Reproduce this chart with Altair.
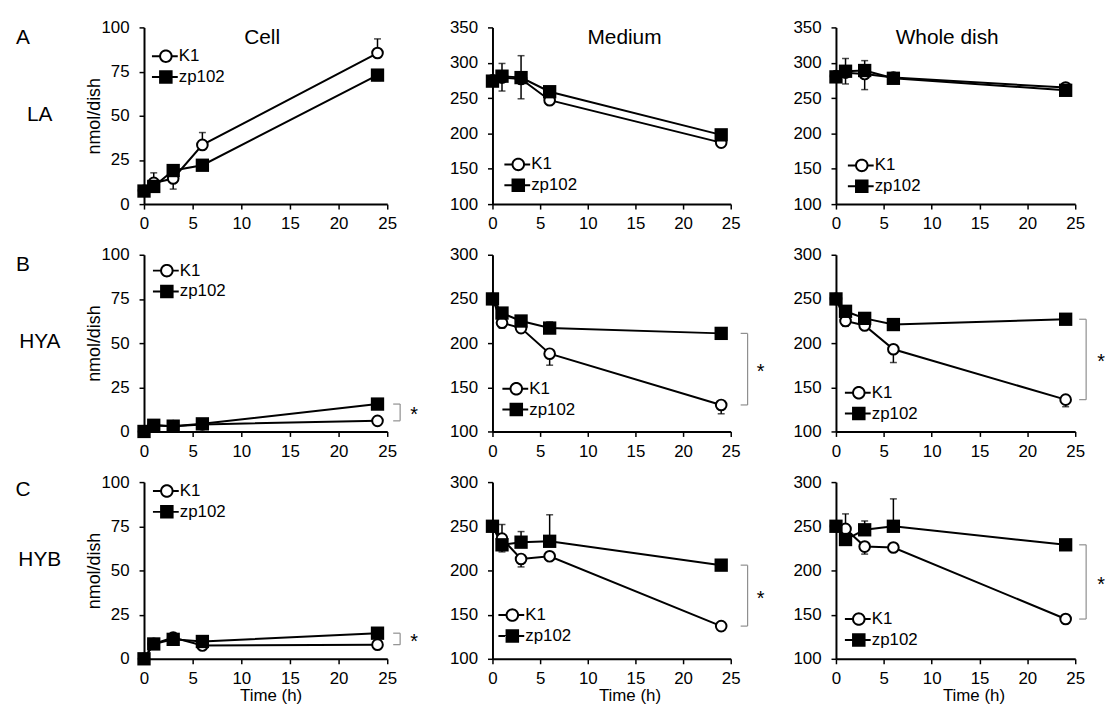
import math
import altair as alt
import pandas as pd

FONT = "Liberation Sans"
TIME = [0, 1, 3, 6, 24]
STRAINS = ["K1", "zp102"]
X_TICKS = [0, 5, 10, 15, 20, 25]

ROW_LETTERS = ["A", "B", "C"]
ROW_NAMES = ["LA", "HYA", "HYB"]
COL_NAMES = ["Cell", "Medium", "Whole dish"]

# ---- LA ----
LA_CELL_K1 = [7.5, 12, 14.5, 33.5, 85.5]
LA_CELL_K1_SD = [1, 5.7, 6, 7, 8]
LA_CELL_ZP = [7.4, 10, 19, 22, 73]
LA_CELL_ZP_SD = [2, 2, 2, 2, 3]
LA_MED_K1 = [275, 279, 277, 247, 187]
LA_MED_K1_SD = [5, 19, 28, 6, 6]
LA_MED_ZP = [274, 281, 279, 259, 198]
LA_MED_ZP_SD = [5, 18, 31, 6, 6]
LA_WHOLE_K1 = [281, 286, 284, 279, 265]
LA_WHOLE_K1_SD = [5, 16, 22, 5, 5]
LA_WHOLE_ZP = [280, 288, 289, 278, 261]
LA_WHOLE_ZP_SD = [5, 18, 14, 5, 5]
# ---- HYA ----
HYA_CELL_K1 = [0, 3.5, 3, 4, 6]
HYA_CELL_K1_SD = [0.3, 0.5, 0.5, 0.8, 1.5]
HYA_CELL_ZP = [0, 3.5, 3, 4.3, 15.5]
HYA_CELL_ZP_SD = [0.3, 0.5, 0.5, 0.8, 2]
HYA_MED_K1 = [250, 223, 217, 188, 130]
HYA_MED_K1_SD = [3, 6, 4, 13, 10]
HYA_MED_ZP = [250, 234, 225, 217, 211]
HYA_MED_ZP_SD = [3, 5, 4, 7, 4]
HYA_WHOLE_K1 = [250, 225, 220, 193, 136]
HYA_WHOLE_K1_SD = [3, 6, 4, 15, 8]
HYA_WHOLE_ZP = [250, 236, 228, 221, 227]
HYA_WHOLE_ZP_SD = [3, 5, 4, 6, 4]
# ---- HYB ----
HYB_CELL_K1 = [0, 8.5, 12, 7.5, 8]
HYB_CELL_K1_SD = [0.3, 1, 1.5, 1, 1]
HYB_CELL_ZP = [0, 8.4, 11, 9.8, 14.5]
HYB_CELL_ZP_SD = [0.3, 1, 1, 1, 1.5]
HYB_MED_K1 = [250, 236, 213, 216, 137]
HYB_MED_K1_SD = [3, 16, 9, 4, 3]
HYB_MED_ZP = [250, 229, 232, 233, 206]
HYB_MED_ZP_SD = [3, 8, 12, 30, 3]
HYB_WHOLE_K1 = [250, 247, 227, 226, 145]
HYB_WHOLE_K1_SD = [3, 17, 8.5, 4, 3]
HYB_WHOLE_ZP = [250, 235, 246, 250, 229]
HYB_WHOLE_ZP_SD = [3, 5, 10, 31, 5]

SERIES = [
    [(LA_CELL_K1, LA_CELL_K1_SD, LA_CELL_ZP, LA_CELL_ZP_SD),
     (LA_MED_K1, LA_MED_K1_SD, LA_MED_ZP, LA_MED_ZP_SD),
     (LA_WHOLE_K1, LA_WHOLE_K1_SD, LA_WHOLE_ZP, LA_WHOLE_ZP_SD)],
    [(HYA_CELL_K1, HYA_CELL_K1_SD, HYA_CELL_ZP, HYA_CELL_ZP_SD),
     (HYA_MED_K1, HYA_MED_K1_SD, HYA_MED_ZP, HYA_MED_ZP_SD),
     (HYA_WHOLE_K1, HYA_WHOLE_K1_SD, HYA_WHOLE_ZP, HYA_WHOLE_ZP_SD)],
    [(HYB_CELL_K1, HYB_CELL_K1_SD, HYB_CELL_ZP, HYB_CELL_ZP_SD),
     (HYB_MED_K1, HYB_MED_K1_SD, HYB_MED_ZP, HYB_MED_ZP_SD),
     (HYB_WHOLE_K1, HYB_WHOLE_K1_SD, HYB_WHOLE_ZP, HYB_WHOLE_ZP_SD)],
]
Y_DOMAINS = [[[0, 100], [100, 350], [100, 350]],
             [[0, 100], [100, 300], [100, 300]],
             [[0, 100], [100, 300], [100, 300]]]
Y_TICKS_CELL = [0, 25, 50, 75, 100]
Y_TICKS_A = [100, 150, 200, 250, 300, 350]
Y_TICKS_BC = [100, 150, 200, 250, 300]
SIGNIFICANT = [False, True, True]

# ---- layout / style ----
WIDTHS = [245, 240, 241]
HEIGHT = 178
LEGEND_XY = [[(8, 16), (12, 125), (12, 126)],
             [(9, 3), (10, 122), (9, 126)],
             [(9, -4), (6, 121), (9, 125)]]
BRACKET_OFF = [13, 17, 11]
STAR_OFF = [27, 30, 26]
TITLE_X = [119, 133, 112]
XTITLE_SHIFT = [5, 18, 18]
GRAY = "#8f8f8f"


def _f(v):
    return f"{v / 13:.3f}"


def _rect(x0, x1, y0, y1):
    return f"M{_f(x0)},{_f(y0)}L{_f(x1)},{_f(y0)}L{_f(x1)},{_f(y1)}L{_f(x0)},{_f(y1)}Z"


def _circ(cx, r, rev=False, n=40):
    angs = [2 * math.pi * i / n for i in range(n)]
    if rev:
        angs = angs[::-1]
    pts = [(cx + r * math.cos(a), r * math.sin(a)) for a in angs]
    return "M" + "L".join(f"{_f(x)},{_f(y)}" for x, y in pts) + "Z"


CX = 1.0
PATH_K1 = (_rect(-13, CX - 6.8 + 0.8, -1, 1) + _circ(CX, 6.8) + _circ(CX, 4.8, rev=True)
           + _rect(CX + 6.8 - 0.8, 13, -1, 1))
PATH_ZP = (_rect(-13, CX - 6.8, -1, 1) + _rect(CX - 6.8, CX + 6.8, -6.8, 6.8)
           + _rect(CX + 6.8, 13, -1, 1))


def text_layer(s, x, y, size, **kw):
    return alt.Chart(pd.DataFrame({"s": [s]})).mark_text(
        font=FONT, fontSize=size, color="black", align="center", baseline="middle", **kw
    ).encode(x=alt.value(x), y=alt.value(y), text="s:N")


def panel(r, c):
    k1, k1sd, zp, zpsd = SERIES[r][c]
    W = WIDTHS[c]
    df = pd.DataFrame({
        "t": TIME * 2,
        "v": k1 + zp,
        "sd": k1sd + zpsd,
        "strain": ["K1"] * len(TIME) + ["zp102"] * len(TIME),
    })
    # error bar drawn away from the other series (upper series up, lower series down)
    other = zp + k1
    up = [v >= o for v, o in zip(df["v"], other)]
    df["lo"] = [v if u else v - s for v, s, u in zip(df["v"], df["sd"], up)]
    df["hi"] = [v + s if u else v for v, s, u in zip(df["v"], df["sd"], up)]
    df["cap"] = [h if u else l for h, l, u in zip(df["hi"], df["lo"], up)]

    xaxis = alt.Axis(values=X_TICKS, title="Time (h)" if r == 2 else None,
                     titleX=W / 2 + XTITLE_SHIFT[c])
    yticks = Y_TICKS_CELL if c == 0 else (Y_TICKS_A if r == 0 else Y_TICKS_BC)
    yaxis = alt.Axis(values=yticks, title="nmol/dish" if c == 0 else None)
    xs = alt.Scale(domain=[0, 25], nice=False)
    ys = alt.Scale(domain=Y_DOMAINS[r][c], nice=False)

    def X(f):
        return alt.X(f + ":Q", scale=xs, axis=xaxis)

    def Y(f):
        return alt.Y(f + ":Q", scale=ys, axis=yaxis)

    base = alt.Chart(df)
    lines = base.mark_line(color="black", strokeWidth=2).encode(
        x=X("t"), y=Y("v"), detail="strain:N")
    err = base.mark_rule(color="black", strokeWidth=1.5).encode(
        x=X("t"), y=Y("lo"), y2="hi:Q")
    caps = base.mark_tick(
        color="black", orient="horizontal", size=7, thickness=1.5).encode(
        x=X("t"), y=Y("cap"))
    pk1 = base.transform_filter(alt.datum.strain == "K1").mark_point(
        shape="circle", filled=True, fill="white", stroke="black", strokeWidth=2,
        size=115, opacity=1).encode(x=X("t"), y=Y("v"))
    pzp = base.transform_filter(alt.datum.strain == "zp102").mark_point(
        shape="square", filled=True, color="black", size=180, opacity=1).encode(
        x=X("t"), y=Y("v"))
    lx, ly = LEGEND_XY[r][c]
    leg = base.mark_point(filled=True, color="black", opacity=0).encode(
        x=X("t"), y=Y("v"),
        shape=alt.Shape("strain:N", scale=alt.Scale(domain=STRAINS, range=[PATH_K1, PATH_ZP]),
                        legend=alt.Legend(orient="none", legendX=lx, legendY=ly, title=None,
                                          symbolSize=676, symbolStrokeWidth=0,
                                          symbolFillColor="black", symbolOpacity=1,
                                          labelFont=FONT, labelFontSize=17, labelColor="black",
                                          labelOffset=1, rowPadding=0, padding=0)))
    layers = [lines, err, caps, pk1, pzp, leg]

    if SIGNIFICANT[r]:
        bdf = pd.DataFrame({"top": [zp[-1]], "bot": [k1[-1]]})
        bdf["mid"] = (bdf["top"] + bdf["bot"]) / 2
        bx = W + BRACKET_OFF[c]
        bch = alt.Chart(bdf)
        layers += [
            bch.mark_rule(color=GRAY, strokeWidth=1.2).encode(
                x=alt.value(bx), y=Y("top"), y2="bot:Q"),
            bch.mark_rule(color=GRAY, strokeWidth=1.2).encode(
                x=alt.value(bx - 7), x2=alt.value(bx), y=Y("top")),
            bch.mark_rule(color=GRAY, strokeWidth=1.2).encode(
                x=alt.value(bx - 7), x2=alt.value(bx), y=Y("bot")),
            bch.mark_text(text="*", font=FONT, fontSize=20, color="black", align="center",
                          baseline="middle", dy=3).encode(
                x=alt.value(W + STAR_OFF[c]), y=Y("mid")),
        ]
    if r == 0:
        layers.append(text_layer(COL_NAMES[c], TITLE_X[c], 11, 21))
    if c == 0:
        lab_y = [11, 10, 8][r]
        name_y = [88, 88, 79][r]
        layers.append(text_layer(ROW_LETTERS[r], -122, lab_y, 21))
        layers.append(text_layer(ROW_NAMES[r], -105, name_y, 21))

    return alt.layer(*layers).properties(width=W, height=HEIGHT)


cells = [panel(r, c) for r in range(3) for c in range(3)]
chart = alt.concat(*cells, columns=3, spacing={"row": 51, "column": 106},
                   bounds="flush", align="each").resolve_scale(
    shape="independent").resolve_legend(shape="independent").properties(
    padding={"left": 7, "top": 8, "right": 0, "bottom": 0}
).configure_view(stroke=None).configure_axis(
    labelFont=FONT, titleFont=FONT, labelFontSize=17, titleFontSize=17,
    titleFontWeight="normal", labelColor="black", titleColor="black",
    domainColor="black", domainWidth=2, tickColor="black", tickWidth=1.5,
    tickSize=5, grid=False, labelFlush=False, labelOverlap=False
).configure_axisX(labelPadding=7, titlePadding=1).configure_axisY(
    labelPadding=10, titlePadding=-3, titleFontSize=18)

chart.save("out.html", embed_options={"renderer": "svg", "actions": False})
